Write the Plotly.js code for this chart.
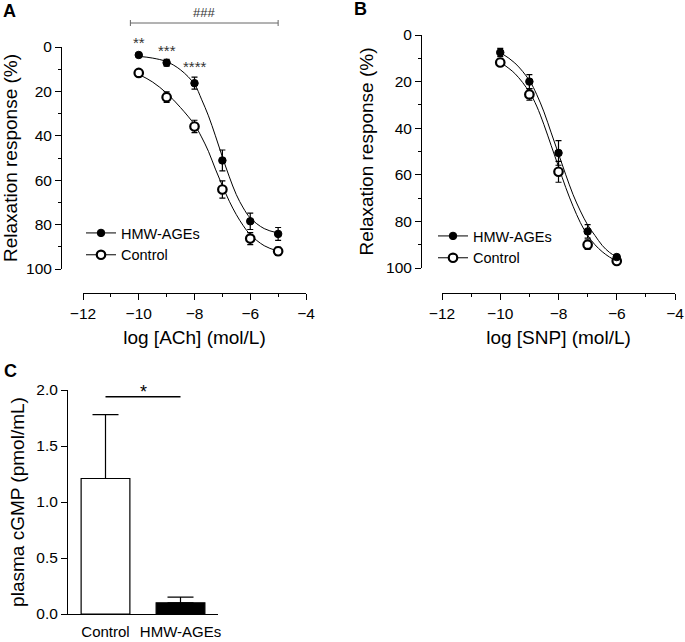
<!DOCTYPE html>
<html>
<head>
<meta charset="utf-8">
<script src="https://cdn.plot.ly/plotly-3.0.1.min.js"></script>
<style>html,body{margin:0;padding:0;background:#fff;}#chart{width:685px;height:642px;}</style>
</head>
<body>
<div id="chart"></div>
<script>
// ---------- Data ----------
// Panel A: ACh concentration-response
const aX = [-10, -9, -8, -7, -6, -5];
const aHmwY = [3.6, 7.1, 16.3, 51.1, 78.5, 84.2];
const aHmwErr = [0.8, 1.5, 2.7, 4.7, 3.7, 2.9];
const aCtlY = [11.7, 22.6, 35.8, 64.2, 86.3, 92.0];
const aCtlErr = [1.5, 2.4, 2.8, 3.9, 2.7, 1.9];
// fitted curves
const aFitX = [-10, -9.5, -9, -8.5, -8, -7.75, -7.5, -7.25, -7, -6.75, -6.5, -6.25, -6, -5.5, -5];
const aHmwFit = [4.2, 5.0, 6.6, 10.3, 16.8, 23.5, 31, 40, 49.5, 58.5, 66.5, 72.5, 77, 81.8, 83.8];
const aCtlFit = [12.3, 15.8, 20.8, 27.3, 35, 40.5, 47, 55, 62.5, 69.5, 75.5, 80.5, 84.5, 89.5, 92];
const aSigX = [-10, -9, -8];
const aSigText = ['**', '***', '****'];

// Panel B: SNP concentration-response
const bX = [-10, -9, -8, -7, -6];
const bHmwY = [7.5, 20.0, 50.6, 84.3, 95.3];
const bHmwErr = [1.8, 3.0, 5.3, 2.9, 0.8];
const bCtlY = [11.8, 25.5, 58.7, 90.0, 97.0];
const bCtlErr = [1.5, 2.5, 4.5, 2.0, 0.8];
const bFitX = [-10, -9.5, -9, -8.75, -8.5, -8.25, -8, -7.75, -7.5, -7.25, -7, -6.75, -6.5, -6.25, -6];
const bHmwFit = [7.5, 12, 19.5, 25.5, 33, 42, 51, 60, 68.5, 75.5, 81.5, 86, 90.3, 93.3, 95.3];
const bCtlFit = [11.7, 16.5, 24.5, 30.5, 38.5, 47.5, 56.5, 65.5, 73.5, 80.5, 86, 90, 93, 95.3, 97];

// Panel C: plasma cGMP
const cCats = ['Control', 'HMW-AGEs'];
const cVals = [1.21, 0.10];
const cErr = [0.57, 0.05];

// Tick labels
const logTicks = [-12, -10, -8, -6, -4];
const logTickText = ['\u221212', '\u221210', '\u22128', '\u22126', '\u22124'];
const logMinor = [-11, -9, -7, -5];
const respTicks = [0, 20, 40, 60, 80, 100];
const respMinor = [10, 30, 50, 70, 90];
const cTicks = [0, 0.5, 1.0, 1.5, 2.0];
const cTickText = ['0.0', '0.5', '1.0', '1.5', '2.0'];

// ---------- Layout helpers ----------
const W = 685, H = 642;
const px = v => v / W;
const py = v => 1 - v / H;
const FONT = 'Arial, "Liberation Sans", sans-serif';

const filled = {symbol: 'circle', size: 7.5, color: '#000', line: {color: '#000', width: 1}};
const openM = {symbol: 'circle', size: 8.5, color: '#fff', line: {color: '#000', width: 2.2}};
const errStyle = (arr) => ({type: 'data', array: arr, visible: true, color: '#000', thickness: 1.2, width: 3});

const traces = [];
function addPanel(xa, ya, xPts, hmwY, hmwErr, ctlY, ctlErr, fitX, hmwFit, ctlFit, legendName) {
  traces.push({x: fitX, y: hmwFit, xaxis: xa, yaxis: ya, mode: 'lines', line: {color: '#000', width: 1, shape: 'spline'}, showlegend: false, hoverinfo: 'skip'});
  traces.push({x: fitX, y: ctlFit, xaxis: xa, yaxis: ya, mode: 'lines', line: {color: '#000', width: 1, shape: 'spline'}, showlegend: false, hoverinfo: 'skip'});
  traces.push({x: xPts, y: ctlY, xaxis: xa, yaxis: ya, mode: 'markers', marker: openM, error_y: errStyle(ctlErr), showlegend: false, cliponaxis: false});
  traces.push({x: xPts, y: hmwY, xaxis: xa, yaxis: ya, mode: 'markers', marker: filled, error_y: errStyle(hmwErr), showlegend: false, cliponaxis: false});
  // legend entries
  traces.push({x: [null], y: [null], xaxis: xa, yaxis: ya, mode: 'lines+markers', name: 'HMW-AGEs', legend: legendName, line: {color: '#000', width: 1}, marker: filled});
  traces.push({x: [null], y: [null], xaxis: xa, yaxis: ya, mode: 'lines+markers', name: 'Control', legend: legendName, line: {color: '#000', width: 1}, marker: openM});
}
addPanel('x', 'y', aX, aHmwY, aHmwErr, aCtlY, aCtlErr, aFitX, aHmwFit, aCtlFit, 'legend');
addPanel('x2', 'y2', bX, bHmwY, bHmwErr, bCtlY, bCtlErr, bFitX, bHmwFit, bCtlFit, 'legend2');

traces.push({
  type: 'bar', x: cCats, y: cVals, xaxis: 'x3', yaxis: 'y3', width: 0.65,
  marker: {color: ['#fff', '#000'], line: {color: '#000', width: 1.2}},
  error_y: {type: 'data', symmetric: false, array: cErr, arrayminus: [0, 0], visible: true, color: '#000', thickness: 1.2, width: 13},
  showlegend: false, hoverinfo: 'skip'
});

const tickFont = {family: FONT, size: 15.5, color: '#000'};
const titleFont = {family: FONT, size: 19, color: '#000'};

function logAxis(dom, posY, title) {
  return {
    domain: dom, anchor: 'free', position: posY, range: [-12, -4],
    showline: true, linecolor: '#000', linewidth: 1, showgrid: false, zeroline: false,
    ticks: 'outside', ticklen: 6, tickwidth: 1, tickcolor: '#000',
    tickmode: 'array', tickvals: logTicks, ticktext: logTickText, tickfont: tickFont,
    ticklabeloverflow: 'allow',
    minor: {ticks: 'outside', ticklen: 3, tickwidth: 1, tickcolor: '#000', tickmode: 'array', tickvals: logMinor, showgrid: false},
    title: {text: title, font: titleFont, standoff: 10}, automargin: false
  };
}
function respAxis(dom, posX) {
  return {
    domain: dom, anchor: 'free', position: posX, range: [100, 0],
    showline: true, linecolor: '#000', linewidth: 1, showgrid: false, zeroline: false,
    ticks: 'outside', ticklen: 6, tickwidth: 1, tickcolor: '#000',
    tickmode: 'array', tickvals: respTicks, tickfont: tickFont,
    minor: {ticks: 'outside', ticklen: 3.5, tickwidth: 1, tickcolor: '#000', tickmode: 'array', tickvals: respMinor, showgrid: false},
    title: {text: 'Relaxation response (%)', font: titleFont, standoff: 6}, automargin: false
  };
}

const ann = (o) => Object.assign({showarrow: false, xanchor: 'center', yanchor: 'middle'}, o);
const annotations = [
  ann({text: '<b>A</b>', x: px(9), y: py(11), xref: 'paper', yref: 'paper', font: {family: FONT, size: 18, color: '#000'}}),
  ann({text: '<b>B</b>', x: px(361), y: py(9), xref: 'paper', yref: 'paper', font: {family: FONT, size: 18, color: '#000'}}),
  ann({text: '<b>C</b>', x: px(10), y: py(371), xref: 'paper', yref: 'paper', font: {family: FONT, size: 18, color: '#000'}}),
  ann({text: '###', x: -7.67, y: py(13), xref: 'x', yref: 'paper', font: {family: FONT, size: 13, color: '#333'}}),
  ann({text: '*', x: 0.5, y: py(392), xref: 'x3', yref: 'paper', font: {family: FONT, size: 18, color: '#000'}})
];
const sigY = [43, 50, 67];
aSigX.forEach((xv, i) => annotations.push(ann({text: aSigText[i], x: xv, y: py(sigY[i]), xref: 'x', yref: 'paper', font: {family: FONT, size: 15, color: '#333'}})));

const shapes = [
  {type: 'line', xref: 'x', yref: 'paper', x0: -10.3, x1: -5.0, y0: py(23), y1: py(23), line: {color: '#666', width: 1}},
  {type: 'line', xref: 'x', yref: 'paper', x0: -10.3, x1: -10.3, y0: py(20), y1: py(26), line: {color: '#666', width: 1}},
  {type: 'line', xref: 'x', yref: 'paper', x0: -5.0, x1: -5.0, y0: py(20), y1: py(26), line: {color: '#666', width: 1}},
  {type: 'line', xref: 'x3', yref: 'y3', x0: 0, x1: 1, y0: 1.94, y1: 1.94, line: {color: '#000', width: 1.5}}
];

const legendBase = {xanchor: 'left', yanchor: 'top', font: {family: FONT, size: 14.5, color: '#000'}, bgcolor: 'rgba(0,0,0,0)', itemwidth: 30, tracegroupgap: 0, traceorder: 'normal'};

const layout = {
  width: W, height: H, margin: {l: 0, r: 0, t: 0, b: 0}, autosize: false,
  paper_bgcolor: '#fff', plot_bgcolor: 'rgba(0,0,0,0)',
  font: {family: FONT, color: '#000'},
  xaxis: logAxis([px(83), px(306)], py(293), 'log [ACh] (mol/L)'),
  yaxis: respAxis([py(269), py(47)], px(61)),
  xaxis2: logAxis([px(442), px(675)], py(293), 'log [SNP] (mol/L)'),
  yaxis2: respAxis([py(268), py(35)], px(421)),
  xaxis3: {
    domain: [px(68), px(218)], anchor: 'y3', range: [-0.5, 1.5], type: 'category',
    showline: true, linecolor: '#000', linewidth: 1, showgrid: false, zeroline: false,
    ticks: 'outside', ticklen: 4, tickcolor: 'rgba(0,0,0,0)', tickfont: {family: FONT, size: 15, color: '#000'}, automargin: false
  },
  yaxis3: {
    domain: [py(614), py(390)], anchor: 'x3', range: [0, 2],
    showline: true, linecolor: '#000', linewidth: 1, showgrid: false, zeroline: false,
    ticks: 'outside', ticklen: 6, tickwidth: 1, tickcolor: '#000',
    tickmode: 'array', tickvals: cTicks, ticktext: cTickText, tickfont: tickFont,
    title: {text: 'plasma cGMP (pmol/mL)', font: {family: FONT, size: 19, color: '#000'}, standoff: 6}, automargin: false
  },
  legend: Object.assign({}, legendBase, {x: px(81), y: py(217)}),
  legend2: Object.assign({}, legendBase, {x: px(433), y: py(220)}),
  annotations: annotations,
  shapes: shapes
};

Plotly.newPlot('chart', traces, layout, {displayModeBar: false, staticPlot: true});
</script>
</body>
</html>
